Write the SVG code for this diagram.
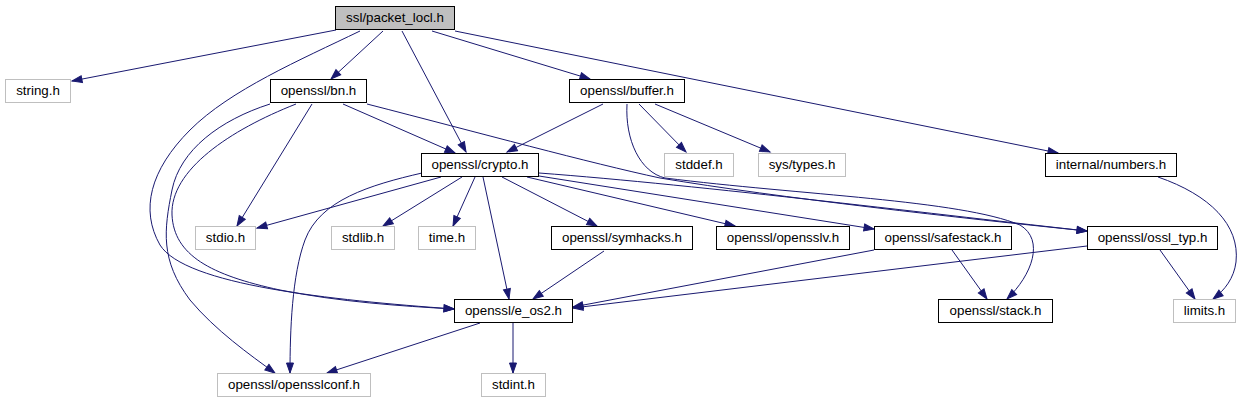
<svg xmlns="http://www.w3.org/2000/svg" width="1241" height="403" viewBox="0 0 1241 403">
<style>
.n rect{fill:#ffffff;stroke:#000000;stroke-width:1}
.u rect{fill:#ffffff;stroke:#bfbfbf;stroke-width:1}
.r rect{fill:#bfbfbf;stroke:#000000;stroke-width:1}
text{font-family:"Liberation Sans",Arial,Helvetica,sans-serif;font-size:13.33px;text-anchor:middle;fill:#000000}
.e path{fill:none;stroke:#191970;stroke-width:1;marker-end:url(#a)}
</style>
<defs>
<marker id="a" markerUnits="userSpaceOnUse" viewBox="0 -5 12 10" markerWidth="12" markerHeight="10" refX="10" refY="0" orient="auto" overflow="visible">
<path d="M0,-3.5L10,0L0,3.5z" fill="#191970" stroke="#191970" stroke-width="1"/>
</marker>
</defs>
<rect width="1241" height="403" fill="#ffffff"/>
<g id="edges" class="e">
<path d="M336,30L72,81"/>
<path d="M383,31L331,79"/>
<path d="M360,31C300,60 230,90 190,130C150,170 140,210 160,245C185,285 330,300 454,309"/>
<path d="M402,31L466,152"/>
<path d="M432,31L590,79"/>
<path d="M455,31L1058,153"/>
<path d="M270,104C220,120 180,150 172,190C164,230 160,260 190,300C215,330 250,355 275,373"/>
<path d="M296,104C230,130 170,170 172,215C174,255 210,275 280,290C340,302 400,306 454,309"/>
<path d="M312,104L237,226"/>
<path d="M343,104L455,153"/>
<path d="M367,104C480,133 590,163 660,178C780,198 960,218 1087,231"/>
<path d="M603,104L507,152"/>
<path d="M627,104C625,140 640,172 665,178C800,195 960,200 1020,225C1045,240 1032,275 1007,299"/>
<path d="M639,104L686,152"/>
<path d="M655,104L770,152"/>
<path d="M441,177L257,228"/>
<path d="M462,177L383,226"/>
<path d="M475,177L453,226"/>
<path d="M422,173C370,185 320,200 305,240C292,275 290,330 290,373"/>
<path d="M483,177L509,299"/>
<path d="M502,177L597,226"/>
<path d="M527,177L735,226"/>
<path d="M539,176L874,229"/>
<path d="M539,173C700,185 950,216 1087,231"/>
<path d="M604,251L533,299"/>
<path d="M874,250L573,307"/>
<path d="M1087,246L573,308"/>
<path d="M952,250L987,299"/>
<path d="M1160,250L1195,299"/>
<path d="M1158,177C1210,195 1240,225 1236,262C1234,278 1225,290 1213,299"/>
<path d="M480,323L327,373"/>
<path d="M513,323L513,373"/>
</g>
<g id="node_root" class="r"><rect x="335.5" y="6.5" width="119" height="23"/><text x="395" y="22">ssl/packet_locl.h</text></g>
<g id="node_string" class="u"><rect x="5.5" y="79.5" width="65" height="23"/><text x="38" y="95">string.h</text></g>
<g id="node_bn" class="n"><rect x="270.5" y="79.5" width="96" height="23"/><text x="318.5" y="95">openssl/bn.h</text></g>
<g id="node_buffer" class="n"><rect x="569.5" y="79.5" width="115" height="23"/><text x="627" y="95">openssl/buffer.h</text></g>
<g id="node_crypto" class="n"><rect x="421.5" y="153.5" width="117" height="23"/><text x="480" y="169">openssl/crypto.h</text></g>
<g id="node_stddef" class="u"><rect x="664.5" y="153.5" width="69" height="23"/><text x="699" y="169">stddef.h</text></g>
<g id="node_systypes" class="u"><rect x="758.5" y="153.5" width="87" height="23"/><text x="802" y="169">sys/types.h</text></g>
<g id="node_numbers" class="n"><rect x="1045.5" y="153.5" width="131" height="23"/><text x="1111" y="169">internal/numbers.h</text></g>
<g id="node_stdio" class="u"><rect x="195.5" y="226.5" width="60" height="23"/><text x="225.5" y="242">stdio.h</text></g>
<g id="node_stdlib" class="u"><rect x="331.5" y="226.5" width="63" height="23"/><text x="363" y="242">stdlib.h</text></g>
<g id="node_time" class="u"><rect x="418.5" y="226.5" width="57" height="23"/><text x="447" y="242">time.h</text></g>
<g id="node_symhacks" class="n"><rect x="551.5" y="226.5" width="141" height="23"/><text x="622" y="242">openssl/symhacks.h</text></g>
<g id="node_opensslv" class="n"><rect x="716.5" y="226.5" width="133" height="23"/><text x="783" y="242">openssl/opensslv.h</text></g>
<g id="node_safestack" class="n"><rect x="874.5" y="226.5" width="137" height="23"/><text x="943" y="242">openssl/safestack.h</text></g>
<g id="node_ossl_typ" class="n"><rect x="1087.5" y="226.5" width="130" height="23"/><text x="1152.5" y="242">openssl/ossl_typ.h</text></g>
<g id="node_e_os2" class="n"><rect x="454.5" y="299.5" width="118" height="23"/><text x="513.5" y="315">openssl/e_os2.h</text></g>
<g id="node_stack" class="n"><rect x="938.5" y="299.5" width="114" height="23"/><text x="995.5" y="315">openssl/stack.h</text></g>
<g id="node_limits" class="u"><rect x="1173.5" y="299.5" width="62" height="23"/><text x="1204.5" y="315">limits.h</text></g>
<g id="node_opensslconf" class="u"><rect x="217.5" y="373.5" width="153" height="23"/><text x="294" y="389">openssl/opensslconf.h</text></g>
<g id="node_stdint" class="u"><rect x="481.5" y="373.5" width="64" height="23"/><text x="513.5" y="389">stdint.h</text></g>
</svg>
